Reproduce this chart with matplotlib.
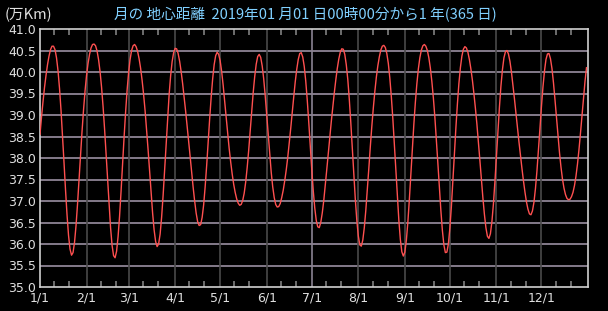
import matplotlib
matplotlib.use('Agg')
import matplotlib.pyplot as plt

# 地心距離 (万Km), 2019/1/1 00:00 から 1日ごと
distance = [
    38.55, 38.95, 39.31, 39.64, 39.92, 40.17, 40.37, 40.52, 40.60, 40.60,
    40.52, 40.33, 40.03, 39.62, 39.11, 38.52, 37.89, 37.26, 36.68, 36.20,
    35.88, 35.74, 35.80, 36.04, 36.43, 36.93, 37.50, 38.07, 38.62, 39.12,
    39.56, 39.92, 40.20, 40.41, 40.56, 40.64, 40.65, 40.61, 40.49, 40.29,
    40.01, 39.65, 39.20, 38.68, 38.10, 37.49, 36.90, 36.38, 35.97, 35.73,
    35.68, 35.83, 36.17, 36.65, 37.23, 37.86, 38.48, 39.06, 39.57, 39.98,
    40.29, 40.50, 40.61, 40.64, 40.59, 40.48, 40.31, 40.09, 39.81, 39.48,
    39.10, 38.66, 38.19, 37.69, 37.19, 36.72, 36.33, 36.06, 35.94, 36.00,
    36.23, 36.62, 37.13, 37.72, 38.34, 38.93, 39.47, 39.91, 40.24, 40.45,
    40.55, 40.54, 40.43, 40.25, 40.01, 39.73, 39.42, 39.09, 38.75, 38.39,
    38.03, 37.67, 37.32, 37.00, 36.72, 36.52, 36.43, 36.45, 36.62, 36.91,
    37.33, 37.82, 38.37, 38.91, 39.41, 39.84, 40.17, 40.38, 40.46, 40.41,
    40.26, 40.01, 39.69, 39.33, 38.95, 38.58, 38.22, 37.91, 37.63, 37.39,
    37.20, 37.05, 36.95, 36.90, 36.92, 37.01, 37.18, 37.44, 37.78, 38.18,
    38.63, 39.08, 39.52, 39.89, 40.18, 40.36, 40.41, 40.34, 40.14, 39.84,
    39.45, 39.00, 38.54, 38.08, 37.67, 37.33, 37.08, 36.92, 36.86, 36.87,
    36.94, 37.08, 37.25, 37.47, 37.72, 38.01, 38.34, 38.69, 39.06, 39.42,
    39.77, 40.06, 40.29, 40.43, 40.45, 40.35, 40.13, 39.79, 39.35, 38.84,
    38.29, 37.74, 37.24, 36.84, 36.55, 36.40, 36.38, 36.50, 36.72, 37.01,
    37.36, 37.73, 38.10, 38.47, 38.84, 39.18, 39.51, 39.81, 40.08, 40.30,
    40.46, 40.54, 40.53, 40.41, 40.17, 39.83, 39.37, 38.83, 38.24, 37.63,
    37.05, 36.56, 36.19, 35.98, 35.95, 36.09, 36.38, 36.78, 37.25, 37.75,
    38.26, 38.73, 39.16, 39.54, 39.87, 40.14, 40.35, 40.51, 40.60, 40.62,
    40.57, 40.43, 40.20, 39.86, 39.43, 38.92, 38.33, 37.72, 37.11, 36.56,
    36.11, 35.82, 35.72, 35.81, 36.08, 36.50, 37.03, 37.62, 38.22, 38.78,
    39.29, 39.72, 40.07, 40.33, 40.51, 40.61, 40.64, 40.60, 40.50, 40.33,
    40.09, 39.78, 39.40, 38.95, 38.43, 37.88, 37.32, 36.78, 36.32, 35.98,
    35.80, 35.81, 36.00, 36.37, 36.87, 37.46, 38.08, 38.70, 39.25, 39.73,
    40.10, 40.37, 40.53, 40.59, 40.56, 40.46, 40.29, 40.07, 39.81, 39.50,
    39.16, 38.79, 38.38, 37.94, 37.50, 37.07, 36.69, 36.38, 36.18, 36.13,
    36.24, 36.52, 36.93, 37.45, 38.03, 38.62, 39.18, 39.67, 40.05, 40.33,
    40.47, 40.50, 40.42, 40.25, 40.00, 39.70, 39.38, 39.04, 38.70, 38.38,
    38.06, 37.76, 37.47, 37.21, 36.98, 36.81, 36.70, 36.68, 36.77, 36.97,
    37.29, 37.70, 38.18, 38.69, 39.20, 39.65, 40.02, 40.29, 40.42, 40.43,
    40.31, 40.08, 39.75, 39.36, 38.94, 38.52, 38.13, 37.79, 37.51, 37.30,
    37.15, 37.06, 37.03, 37.04, 37.10, 37.20, 37.36, 37.58, 37.86, 38.20,
    38.58, 38.99, 39.40, 39.78, 40.10,
]
days = list(range(len(distance)))

month_start = [0, 31, 59, 90, 120, 151, 181, 212, 243, 273, 304, 334]
month_labels = ['1/1', '2/1', '3/1', '4/1', '5/1', '6/1',
                '7/1', '8/1', '9/1', '10/1', '11/1', '12/1']
y_ticks = [35.0, 35.5, 36.0, 36.5, 37.0, 37.5, 38.0, 38.5,
           39.0, 39.5, 40.0, 40.5, 41.0]

fig = plt.figure(figsize=(6.08, 3.11), dpi=100, facecolor='black')
ax = fig.add_axes([40/608, 24/311, 548/608, 258/311], facecolor='black')

# 横の目盛線
for y in y_ticks[1:-1]:
    ax.axhline(y, color='#9a90a2', lw=1.2, zorder=1)
# 月の区切り (7/1 だけ明るい)
for d in month_start[1:]:
    c = '#8a8292' if d == 181 else '#4a4a4a'
    ax.axvline(d, color=c, lw=1.2, zorder=1)

ax.plot(days, distance, color='#ff5050', lw=1.0, zorder=3)

ax.set_xlim(0, 365)
ax.set_ylim(35.0, 41.0)
ax.set_xticks(month_start)
ax.set_xticklabels(month_labels)
ax.set_yticks(y_ticks)
ax.set_yticklabels(['%.1f' % y for y in y_ticks])
minor = [m + o for m in month_start for o in (9.5, 19.5)]
ax.set_xticks(minor, minor=True)
ax.tick_params(axis='x', which='major', length=0, pad=3, labelsize=9,
               colors='#e0e0e0')
ax.tick_params(axis='x', which='minor', length=4, width=1.2, color='#808080',
               direction='in', top=True, bottom=True)
ax.tick_params(axis='y', length=0, pad=3, labelsize=9, colors='#e0e0e0')
for s in ax.spines.values():
    s.set_color('#d0d0d0')
    s.set_linewidth(1.2)

fig.text(5/608, 1 - 15/311, '(万Km)', color='#e0e0e0', fontsize=10.5,
         va='center', family=['Noto Sans CJK JP', 'DejaVu Sans'])
fig.text(305/608, 1 - 15/311, '月の 地心距離  2019年01 月01 日00時00分から1 年(365 日)',
         color='#80d0ff', fontsize=10.5, ha='center', va='center',
         family=['Noto Sans CJK JP', 'DejaVu Sans'])

fig.savefig('out.png', facecolor='black')
